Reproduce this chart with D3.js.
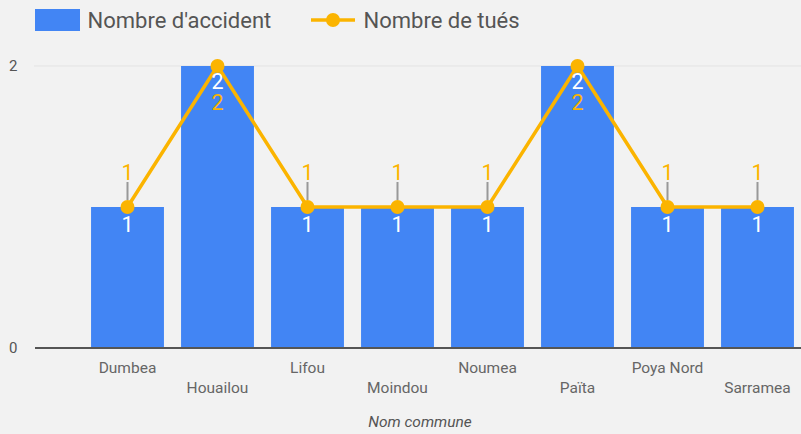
<!DOCTYPE html>
<html>
<head>
<meta charset="utf-8">
<script src="https://cdn.jsdelivr.net/npm/d3@7"></script>
<style>
  body { margin: 0; background: #f2f2f2; }
  svg { display: block; font-family: Roboto, sans-serif; }
</style>
</head>
<body>
<div id="graph"></div>
<script>
// data
const communes = ["Dumbea", "Houailou", "Lifou", "Moindou", "Noumea", "Païta", "Poya Nord", "Sarramea"];
const accidents = [1, 2, 1, 1, 1, 2, 1, 1];
const tues = [1, 2, 1, 1, 1, 2, 1, 1];
const yTicks = [0, 2];

const width = 801, height = 434;
const blue = "#4285f4", orange = "#fbb400";

const svg = d3.select("#graph").append("svg")
  .attr("width", width)
  .attr("height", height);

svg.append("rect").attr("width", width).attr("height", height).attr("fill", "#f2f2f2");

const x = d3.scaleBand()
  .domain(communes)
  .range([82.5, 802.5])
  .paddingInner(0.19)
  .paddingOuter(0.095);

const y = d3.scaleLinear()
  .domain([0, 2])
  .range([348, 66]);

// gridlines + y labels
svg.append("g").selectAll("line")
  .data(yTicks.filter(d => d !== 0))
  .join("line")
  .attr("x1", 34).attr("x2", width)
  .attr("y1", d => y(d)).attr("y2", d => y(d))
  .attr("stroke", "#e3e3e3").attr("stroke-width", 1);

svg.append("g").selectAll("text")
  .data(yTicks)
  .join("text")
  .attr("x", 17.5).attr("y", d => y(d))
  .attr("dy", "0.35em")
  .attr("text-anchor", "end")
  .attr("font-size", 15)
  .attr("fill", "#555")
  .text(d => d);

// bars
svg.append("g").selectAll("rect")
  .data(communes)
  .join("rect")
  .attr("x", d => x(d))
  .attr("width", x.bandwidth())
  .attr("y", (d, i) => y(accidents[i]))
  .attr("height", (d, i) => y(0) - y(accidents[i]))
  .attr("fill", blue);

// baseline
svg.append("line")
  .attr("x1", 35).attr("x2", width)
  .attr("y1", y(0)).attr("y2", y(0))
  .attr("stroke", "#555").attr("stroke-width", 2);

// x labels, staggered on two rows
svg.append("g").selectAll("text")
  .data(communes)
  .join("text")
  .attr("x", d => x(d) + x.bandwidth() / 2)
  .attr("y", (d, i) => i % 2 === 0 ? 373 : 393)
  .attr("text-anchor", "middle")
  .attr("font-size", 15.5)
  .attr("fill", "#666")
  .text(d => d);

svg.append("text")
  .attr("x", 420).attr("y", 427)
  .attr("text-anchor", "middle")
  .attr("font-size", 15.5)
  .attr("font-style", "italic")
  .attr("fill", "#555")
  .text("Nom commune");

const cx = d => x(d) + x.bandwidth() / 2;

// line series
const line = d3.line()
  .x((d, i) => cx(communes[i]))
  .y(d => y(d));

svg.append("path")
  .datum(tues)
  .attr("d", line)
  .attr("fill", "none")
  .attr("stroke", orange)
  .attr("stroke-width", 3.5)
  .attr("stroke-linejoin", "round");

// annotations
const isMax = v => v === d3.max(tues);
svg.append("g").selectAll("line")
  .data(tues.map((v, i) => [v, i]).filter(d => !isMax(d[0])))
  .join("line")
  .attr("x1", d => cx(communes[d[1]])).attr("x2", d => cx(communes[d[1]]))
  .attr("y1", d => y(d[0]) - 7).attr("y2", d => y(d[0]) - 25)
  .attr("stroke", "#999").attr("stroke-width", 2);

svg.append("g").selectAll("circle")
  .data(tues)
  .join("circle")
  .attr("cx", (d, i) => cx(communes[i]))
  .attr("cy", d => y(d))
  .attr("r", 7)
  .attr("fill", orange);

// bar value labels (white)
svg.append("g").selectAll("text")
  .data(accidents)
  .join("text")
  .attr("x", (d, i) => cx(communes[i]))
  .attr("y", d => y(d) + (isMax(d) ? 23 : 25))
  .attr("text-anchor", "middle")
  .attr("font-size", 21.5)
  .attr("fill", "#fff")
  .text(d => d);

// line value labels (orange): above, or below bar label when at top
svg.append("g").selectAll("text")
  .data(tues)
  .join("text")
  .attr("x", (d, i) => cx(communes[i]))
  .attr("y", d => isMax(d) ? y(d) + 44 : y(d) - 27)
  .attr("text-anchor", "middle")
  .attr("font-size", 21.5)
  .attr("fill", orange)
  .text(d => d);

// legend
const lg = svg.append("g");
lg.append("rect").attr("x", 35).attr("y", 9).attr("width", 45).attr("height", 22).attr("fill", blue);
lg.append("text").attr("x", 87.5).attr("y", 27.5).attr("font-size", 22).attr("fill", "#555").text("Nombre d'accident");
lg.append("line").attr("x1", 311).attr("x2", 355).attr("y1", 20).attr("y2", 20)
  .attr("stroke", orange).attr("stroke-width", 3.5);
lg.append("circle").attr("cx", 333).attr("cy", 20).attr("r", 7).attr("fill", orange);
lg.append("text").attr("x", 363.5).attr("y", 27.5).attr("font-size", 22).attr("fill", "#555").text("Nombre de tués");
</script>
</body>
</html>
